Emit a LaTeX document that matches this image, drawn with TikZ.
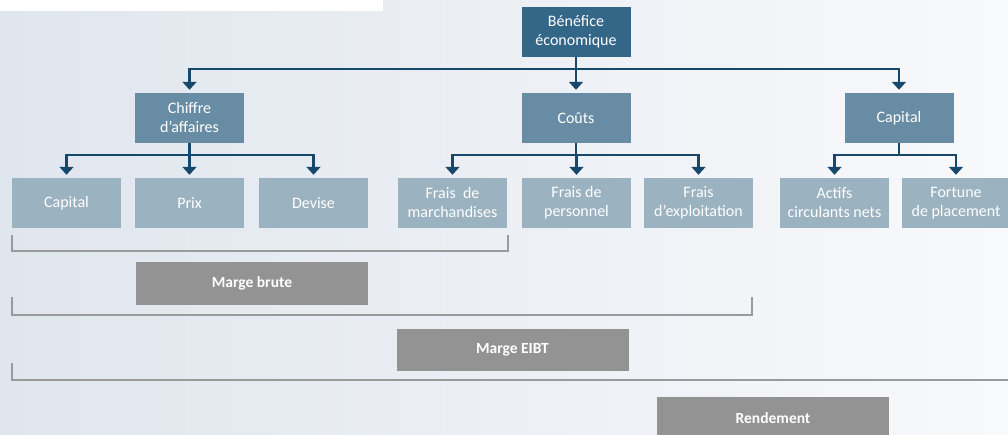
\documentclass[tikz,border=0pt]{standalone}
\usepackage{fontspec}
\setmainfont{Carlito}
\usetikzlibrary{arrows.meta}
\definecolor{topblue}{HTML}{346688}
\definecolor{midblue}{HTML}{688CA3}
\definecolor{leafblue}{HTML}{9BB2C0}
\definecolor{linkblue}{HTML}{15486B}
\definecolor{margegrey}{HTML}{939393}
\definecolor{bracketgrey}{HTML}{9A9A9A}
\definecolor{bgleft}{HTML}{E0E6EE}
\definecolor{bgright}{HTML}{F8F9FB}
\begin{document}
\begin{tikzpicture}[x=1pt, y=-1pt,
    box/.style={minimum width=109pt, minimum height=50pt, inner sep=0pt, align=center,
        text=white, font=\fontsize{16}{19}\selectfont},
    topbox/.style={box, fill=topblue},
    midbox/.style={box, fill=midblue},
    leafbox/.style={box, fill=leafblue},
    margebox/.style={fill=margegrey, minimum width=232pt, minimum height=42pt, inner sep=0pt,
        text=white, font=\bfseries\fontsize{15.5}{18}\selectfont},
    link/.style={draw=linkblue, line width=2.5pt, -{Triangle[width=14pt,length=8pt]}, shorten >=3pt},
    bracket/.style={draw=bracketgrey, line width=2pt}]
    \clip (0,0) rectangle (1008,435);
    \shade[left color=bgleft, right color=bgright] (0,0) rectangle (1008,435);
    \fill[white] (0,0) rectangle (383,11);
    \def\rowa{32}
    \def\rowb{118}
    \def\rowc{203}
    % tree
    \node[topbox] (benefice) at (576,\rowa) {Bénéfice\\économique};
    \node[midbox] (chiffre) at (189.5,\rowb) {Chiffre\\d’affaires};
    \node[midbox] (couts) at (576,\rowb) {Coûts};
    \node[midbox] (capital) at (899,\rowb) {Capital};
    \node[leafbox] (capitalb) at (66.5,\rowc) {Capital};
    \node[leafbox] (prix) at (189.5,\rowc) {Prix};
    \node[leafbox] (devise) at (313.5,\rowc) {Devise};
    \node[leafbox] (marchandises) at (452.5,\rowc) {Frais~ de\\marchandises};
    \node[leafbox] (personnel) at (576.5,\rowc) {Frais de\\personnel};
    \node[leafbox] (exploitation) at (698.5,\rowc) {Frais\\d’exploitation};
    \node[leafbox] (actifs) at (834.5,\rowc) {Actifs\\circulants nets};
    \node[leafbox] (fortune) at (956,\rowc) {Fortune\\de placement};
    % connectors
    \coordinate (ja) at (576,69);
    \foreach \n in {chiffre,couts,capital}
        \draw[link] (benefice) -- (ja) -| (\n);
    \foreach \p/\c in {chiffre/capitalb, chiffre/prix, chiffre/devise,
                       couts/marchandises, couts/personnel, couts/exploitation,
                       capital/actifs, capital/fortune}{
        \draw[link] (\p) -- (\p.south |- 0,155) -| (\c);
    }
    % margins
    \draw[bracket] (12,235) -- (12,251) -- (508,251) -- (508,235);
    \draw[bracket] (12,297) -- (12,315) -- (752,315) -- (752,297);
    \draw[bracket] (12,363) -- (12,380) -- (1008,380);
    \node[margebox] (brute) at (252,283.5) {Marge brute};
    \node[margebox] (eibt) at (512.5,350) {Marge EIBT};
    \node[margebox] (rendement) at (773,418) {Rendement};
\end{tikzpicture}
\end{document}
